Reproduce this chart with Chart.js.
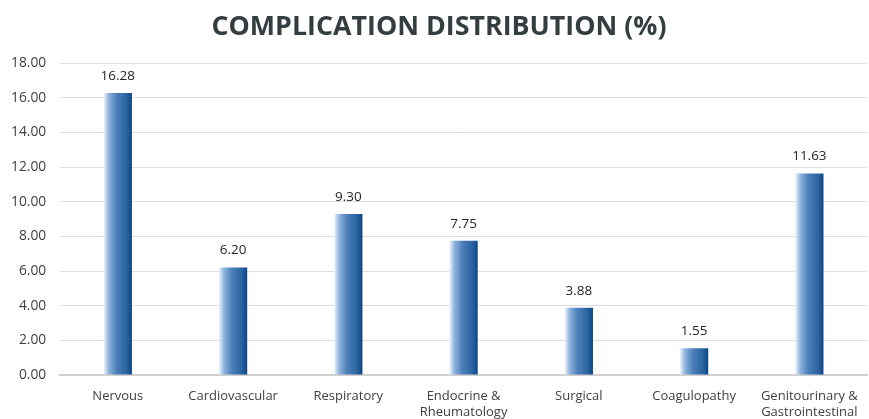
<!DOCTYPE html>
<html>
<head>
<meta charset="utf-8">
<script src="https://cdn.jsdelivr.net/npm/chart.js@4/dist/chart.umd.min.js"></script>
<style>
  html, body { margin: 0; padding: 0; background: #fff; }
  #wrap { width: 869px; height: 419px; position: relative; }
</style>
</head>
<body>
<div id="wrap"><canvas id="c"></canvas></div>
<script>
const categories = [
  'Nervous',
  'Cardiovascular',
  'Respiratory',
  ['Endocrine &', 'Rheumatology'],
  'Surgical',
  'Coagulopathy',
  ['Genitourinary &', 'Gastrointestinal']
];
const complicationPct = [16.28, 6.20, 9.30, 7.75, 3.88, 1.55, 11.63];
const yTicks = [0, 2, 4, 6, 8, 10, 12, 14, 16, 18];

const FONT = "'Open Sans', 'Noto Sans', sans-serif";

// Paint each bar with its own left-to-right light-to-dark blue gradient
const barGradient = {
  id: 'barGradient',
  beforeDatasetsDraw(chart) {
    const ctx = chart.ctx;
    chart.getDatasetMeta(0).data.forEach(bar => {
      const half = bar.width / 2;
      const g = ctx.createLinearGradient(bar.x - half, 0, bar.x + half, 0);
      g.addColorStop(0, '#eef5fc');
      g.addColorStop(0.18, '#8db3dc');
      g.addColorStop(0.45, '#4d80b9');
      g.addColorStop(0.8, '#2a64a2');
      g.addColorStop(1, '#0c4686');
      bar.options = Object.assign({}, bar.options, { backgroundColor: g });
    });
  }
};

// Value labels above each bar
const valueLabels = {
  id: 'valueLabels',
  afterDatasetsDraw(chart) {
    const ctx = chart.ctx;
    ctx.save();
    ctx.font = '13.5px ' + FONT;
    ctx.fillStyle = '#262626';
    ctx.textAlign = 'center';
    ctx.textBaseline = 'middle';
    chart.getDatasetMeta(0).data.forEach((bar, i) => {
      ctx.fillText(complicationPct[i].toFixed(2), bar.x, bar.y - 17);
    });
    ctx.restore();
  }
};

// Nudge the title slightly right so it sits over the plot
const titleNudge = {
  id: 'titleNudge',
  afterLayout(chart) {
    const t = chart.titleBlock;
    if (t) { t.left += 7; t.right += 7; }
  }
};

new Chart(document.getElementById('c'), {
  type: 'bar',
  data: {
    labels: categories,
    datasets: [{
      data: complicationPct,
      backgroundColor: '#4a7db5',
      borderWidth: 0,
      categoryPercentage: 1,
      barPercentage: 0.245
    }]
  },
  options: {
    responsive: true,
    maintainAspectRatio: false,
    animation: false,
    layout: { padding: { left: -3, right: 2, top: 0, bottom: -6 } },
    plugins: {
      legend: { display: false },
      tooltip: { enabled: false },
      title: {
        display: true,
        text: 'COMPLICATION DISTRIBUTION (%)',
        color: '#343d40',
        font: { family: FONT, size: 26.8, weight: 'bold' },
        padding: { top: 11, bottom: 20 }
      }
    },
    scales: {
      x: {
        grid: { display: false },
        border: { display: true, color: '#d0d0d0', width: 2 },
        ticks: {
          color: '#404040',
          font: { family: FONT, size: 13, lineHeight: 1.23 },
          maxRotation: 0,
          autoSkip: false,
          padding: 5
        }
      },
      y: {
        min: 0,
        max: 18,
        afterBuildTicks(axis) {
          axis.ticks = yTicks.map(v => ({ value: v }));
        },
        grid: { color: '#dcdcdc', lineWidth: 1, drawTicks: false },
        border: { display: false },
        ticks: {
          color: '#404040',
          font: { family: FONT, size: 13.8 },
          padding: 14,
          callback: v => Number(v).toFixed(2)
        }
      }
    }
  },
  plugins: [barGradient, valueLabels, titleNudge]
});
</script>
</body>
</html>
